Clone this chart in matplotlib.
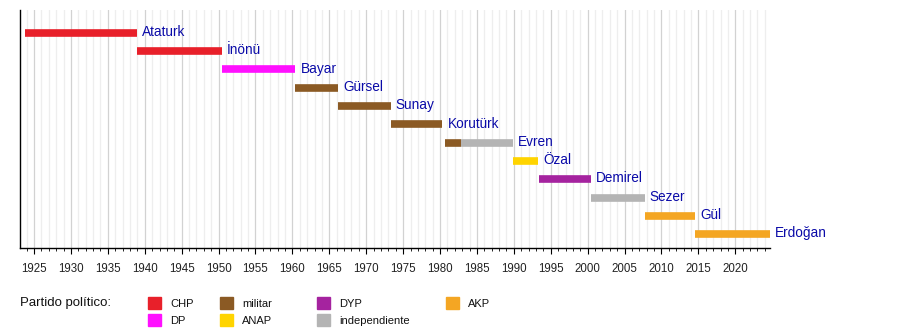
import matplotlib
matplotlib.use("Agg")
import matplotlib.pyplot as plt
from matplotlib.ticker import MultipleLocator

# Presidents of Turkey, term segments (start, end, party)
labels = ["Ataturk", "İnönü", "Bayar", "Gürsel", "Sunay", "Korutürk",
          "Evren", "Özal", "Demirel", "Sezer", "Gül", "Erdoğan"]
segments = [
    [(1923.8, 1938.9, "CHP")],
    [(1938.9, 1950.4, "CHP")],
    [(1950.4, 1960.4, "DP")],
    [(1960.4, 1966.2, "militar")],
    [(1966.2, 1973.3, "militar")],
    [(1973.3, 1980.3, "militar")],
    [(1980.7, 1982.9, "militar"), (1982.9, 1989.9, "independiente")],
    [(1989.9, 1993.3, "ANAP")],
    [(1993.4, 2000.4, "DYP")],
    [(2000.4, 2007.7, "independiente")],
    [(2007.7, 2014.6, "AKP")],
    [(2014.6, 2024.7, "AKP")],
]
parties = ["CHP", "DP", "militar", "ANAP", "DYP", "independiente", "AKP"]
party_colors = {
    "CHP": "#e8202a",
    "DP": "#ff10ff",
    "militar": "#8b5a24",
    "ANAP": "#ffd400",
    "DYP": "#a5239f",
    "independiente": "#b4b4b4",
    "AKP": "#f4a623",
}

fig = plt.figure(figsize=(9, 3.3), dpi=100)
ax = fig.add_axes([20 / 900, 1 - 248 / 330, 750 / 900, 238 / 330])

x0, x1 = 1923.1, 2024.7
ax.set_xlim(x0, x1)
ax.set_ylim(11.75, -1.25)

# background grid: one light line per year, darker every five years
for yr in range(1924, 2025):
    col = "#d2d2d2" if yr % 5 == 0 else "#eeeeee"
    ax.axvline(yr, color=col, lw=0.9, zorder=0)

for i, segs in enumerate(segments):
    for s, e, p in segs:
        ax.plot([s, e], [i, i], color=party_colors[p], lw=5.5,
                solid_capstyle="butt", zorder=2)
    end = segs[-1][1]
    ax.text(end + 0.7, i - 0.05, labels[i], color="#0a0aa8", fontsize=9.8,
            ha="left", va="center", fontfamily="Liberation Sans", zorder=3,
            clip_on=False)

for side in ("top", "right"):
    ax.spines[side].set_visible(False)
ax.spines["left"].set_linewidth(1.0)
ax.spines["bottom"].set_linewidth(1.0)
ax.set_yticks([])
ax.xaxis.set_major_locator(MultipleLocator(5))
ax.xaxis.set_minor_locator(MultipleLocator(1))
ax.tick_params(axis="x", which="major", length=4, width=0.8, labelsize=8.3,
               pad=7, labelcolor="#222222")
ax.tick_params(axis="x", which="minor", length=2, width=0.6)
for t in ax.get_xticklabels():
    t.set_fontfamily("Liberation Sans")

# legend
fig.text(20 / 900, 1 - 303 / 330, "Partido político:", fontsize=9.5,
         fontfamily="Liberation Sans", va="center", ha="left", color="#111111")
legend_pos = {
    "CHP": (148, 303), "DP": (148, 320),
    "militar": (220, 303), "ANAP": (220, 320),
    "DYP": (317, 303), "independiente": (317, 320),
    "AKP": (446, 303),
}
for p in parties:
    px, py = legend_pos[p]
    fig.patches.append(plt.Rectangle((px / 900, 1 - (py + 6) / 330), 13 / 900, 12 / 330,
                                     transform=fig.transFigure,
                                     color=party_colors[p], figure=fig))
    fig.text((px + 22) / 900, 1 - (py + 1) / 330, p, fontsize=8,
             fontfamily="Liberation Sans", va="center", ha="left", color="#111111")

fig.savefig("out.png", dpi=100)
